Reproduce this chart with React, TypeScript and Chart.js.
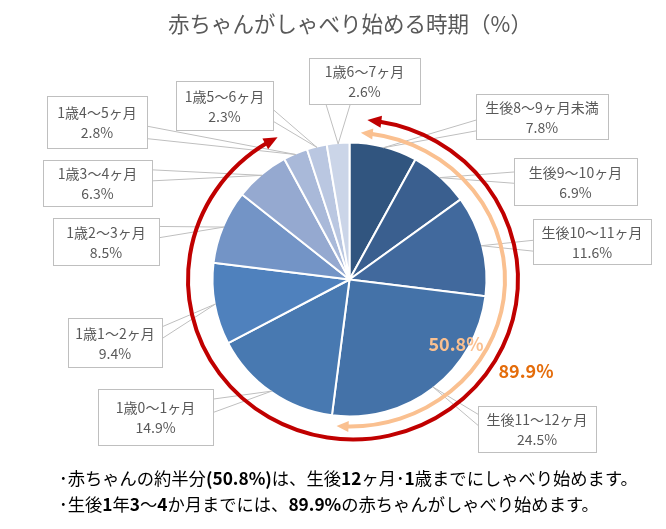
import React, { useEffect, useRef } from 'react';
import { Chart, registerables } from 'chart.js';

Chart.register(...registerables);

const categories = [
  '生後8～9ヶ月未満',
  '生後9～10ヶ月',
  '生後10～11ヶ月',
  '生後11～12ヶ月',
  '1歳0～1ヶ月',
  '1歳1～2ヶ月',
  '1歳2～3ヶ月',
  '1歳3～4ヶ月',
  '1歳4～5ヶ月',
  '1歳5～6ヶ月',
  '1歳6～7ヶ月',
];
const shares = [7.8, 6.9, 11.6, 24.5, 14.9, 9.4, 8.5, 6.3, 2.8, 2.3, 2.6];
const sliceColors = [
  '#31557F', '#3A5F8F', '#41699D', '#4472A8', '#4879B1', '#4F81BD',
  '#7394C6', '#95A9D0', '#A9B9D9', '#BAC7E1', '#CBD5E8',
];

// cumulative marks: through 生後11～12ヶ月 and through 1歳3～4ヶ月
const halfIndex = 3;
const mostIndex = 7;

// callout boxes [x, y, w, h]
const calloutBoxes = [
  [476, 94, 132, 45],
  [514, 158, 123, 47],
  [533, 219, 118, 45],
  [478, 406, 118, 46],
  [98, 389, 115, 56],
  [68, 318, 94, 49],
  [53, 218, 106, 47],
  [43, 160, 109, 46],
  [47, 96, 100, 52],
  [176, 81, 97, 49],
  [309, 58, 111, 46],
];

const FONT = '"Noto Sans CJK JP", "Noto Sans", sans-serif';
const DEG = Math.PI / 180;

const cumulative = (idx: number) =>
  shares.slice(0, idx + 1).reduce((a, b) => a + b, 0).toFixed(1) + '%';

const clamp = (v: number, lo: number, hi: number) => Math.max(lo, Math.min(hi, v));

function drawHead(ctx: CanvasRenderingContext2D, tip: number[], dir: number[], len: number, w: number) {
  const bx = tip[0] - dir[0] * len;
  const by = tip[1] - dir[1] * len;
  const nx = -dir[1];
  const ny = dir[0];
  ctx.beginPath();
  ctx.moveTo(tip[0], tip[1]);
  ctx.lineTo(bx + nx * w / 2, by + ny * w / 2);
  ctx.lineTo(bx - nx * w / 2, by - ny * w / 2);
  ctx.closePath();
  ctx.fill();
}

function arrowArc(
  ctx: CanvasRenderingContext2D,
  cx: number, cy: number, rx: number, ry: number,
  a0: number, a1: number, color: string, lw: number, len: number, w: number,
) {
  const pt = (t: number) => [cx + rx * Math.cos(t), cy + ry * Math.sin(t)];
  const tan = (t: number) => {
    const dx = -rx * Math.sin(t);
    const dy = ry * Math.cos(t);
    const l = Math.hypot(dx, dy);
    return [dx / l, dy / l];
  };
  const trim = (len * 0.8) / ((rx + ry) / 2);
  ctx.save();
  ctx.strokeStyle = color;
  ctx.fillStyle = color;
  ctx.lineWidth = lw;
  ctx.beginPath();
  ctx.ellipse(cx, cy, rx, ry, 0, a0 + trim, a1 - trim);
  ctx.stroke();
  const tEnd = tan(a1 - trim / 2);
  drawHead(ctx, pt(a1), tEnd, len, w);
  const tStart = tan(a0 + trim / 2);
  drawHead(ctx, pt(a0), [-tStart[0], -tStart[1]], len, w);
  ctx.restore();
}

const overlayPlugin = {
  id: 'overlay',
  afterDatasetsDraw(chart: any) {
    const ctx: CanvasRenderingContext2D = chart.ctx;
    const arcs = chart.getDatasetMeta(0).data;
    const { x: cx, y: cy, outerRadius } = arcs[0].getProps(['x', 'y', 'outerRadius'], true);

    // callouts
    ctx.save();
    arcs.forEach((arc: any, i: number) => {
      const { startAngle, endAngle } = arc.getProps(['startAngle', 'endAngle'], true);
      const mid = (startAngle + endAngle) / 2;
      const tx = cx + Math.cos(mid) * (outerRadius - 1);
      const ty = cy + Math.sin(mid) * (outerRadius - 1);
      const [bx, by, bw, bh] = calloutBoxes[i];
      let p1: number[];
      let p2: number[];
      if (tx < bx || tx > bx + bw) {
        const ex = tx < bx ? bx : bx + bw;
        const c = clamp(ty, by + bh * 0.3, by + bh * 0.7);
        const hw = bh * 0.12;
        p1 = [ex, c - hw];
        p2 = [ex, c + hw];
      } else {
        const ey = ty > by + bh ? by + bh : by;
        const c = clamp(tx, bx + bw * 0.25, bx + bw * 0.75);
        const hw = bw * 0.11;
        p1 = [c - hw, ey];
        p2 = [c + hw, ey];
      }
      ctx.strokeStyle = '#BFBFBF';
      ctx.lineWidth = 1;
      ctx.beginPath();
      ctx.moveTo(p1[0], p1[1]);
      ctx.lineTo(tx, ty);
      ctx.lineTo(p2[0], p2[1]);
      ctx.stroke();
      ctx.fillStyle = '#ffffff';
      ctx.fillRect(bx, by, bw, bh);
      ctx.strokeRect(bx + 0.5, by + 0.5, bw, bh);

      ctx.fillStyle = '#595959';
      ctx.font = `14px ${FONT}`;
      ctx.textAlign = 'center';
      ctx.textBaseline = 'middle';
      const mx = bx + bw / 2;
      const my = by + bh / 2;
      ctx.fillText(categories[i], mx, my - 9);
      ctx.fillText(shares[i].toFixed(1) + '%', mx, my + 11);
    });
    ctx.restore();

    // cumulative arrows
    const start = arcs[0].getProps(['startAngle'], true).startAngle;
    const halfEnd = arcs[halfIndex].getProps(['endAngle'], true).endAngle;
    const mostEnd = arcs[mostIndex].getProps(['endAngle'], true).endAngle;
    arrowArc(ctx, cx + 0.5, cy, outerRadius + 18, outerRadius + 10,
      start + 4 * DEG, halfEnd - 2.4 * DEG, '#FAC090', 4, 12, 11);
    arrowArc(ctx, cx + 3.5, cy, outerRadius + 28, outerRadius + 23,
      start + 5 * DEG, mostEnd + 1.2 * DEG, '#C00000', 4, 14, 12);

    ctx.save();
    ctx.font = `bold 18px ${FONT}`;
    ctx.textAlign = 'center';
    ctx.textBaseline = 'middle';
    ctx.fillStyle = '#FAC090';
    ctx.fillText(cumulative(halfIndex), 456, 344);
    ctx.fillStyle = '#E46C0A';
    ctx.fillText(cumulative(mostIndex), 526, 371);
    ctx.restore();
  },
};

const SpeechChart: React.FC = () => {
  const canvasRef = useRef<HTMLCanvasElement>(null);
  const chartInstance = useRef<Chart | null>(null);

  useEffect(() => {
    document.body.style.margin = '0';
    if (!canvasRef.current) return;
    if (chartInstance.current) chartInstance.current.destroy();
    chartInstance.current = new Chart(canvasRef.current, {
      type: 'pie',
      data: {
        labels: categories,
        datasets: [
          {
            data: shares,
            backgroundColor: sliceColors,
            borderColor: '#ffffff',
            borderWidth: 2,
          },
        ],
      },
      options: {
        responsive: true,
        maintainAspectRatio: false,
        animation: false,
        radius: 137,
        layout: { padding: { left: 211, right: 178, top: 141, bottom: 111 } },
        plugins: {
          legend: { display: false },
          tooltip: { enabled: false },
        },
      } as any,
      plugins: [overlayPlugin],
    });
    return () => {
      if (chartInstance.current) {
        chartInstance.current.destroy();
        chartInstance.current = null;
      }
    };
  }, []);

  return (
    <div style={{ position: 'relative', width: 666, height: 529, background: '#fff', fontFamily: FONT }}>
      <canvas ref={canvasRef}></canvas>
      <div
        style={{
          position: 'absolute', left: 100, width: 500, top: 8, textAlign: 'center',
          fontSize: 21.5, lineHeight: '30px', color: '#595959', whiteSpace: 'nowrap',
        }}
      >
        赤ちゃんがしゃべり始める時期（%）
      </div>
      <div
        style={{
          position: 'absolute', left: 59, top: 465, fontSize: 17.3, lineHeight: '26px',
          color: '#000', whiteSpace: 'nowrap',
        }}
      >
        <div>･赤ちゃんの約半分<b>(50.8%)</b>は、生後<b>12</b>ヶ月･<b>1</b>歳までにしゃべり始めます。</div>
        <div>･生後<b>1</b>年<b>3</b>～<b>4</b>か月までには、<b>89.9%</b>の赤ちゃんがしゃべり始めます。</div>
      </div>
    </div>
  );
};

export default function App() {
  return <SpeechChart />;
}
